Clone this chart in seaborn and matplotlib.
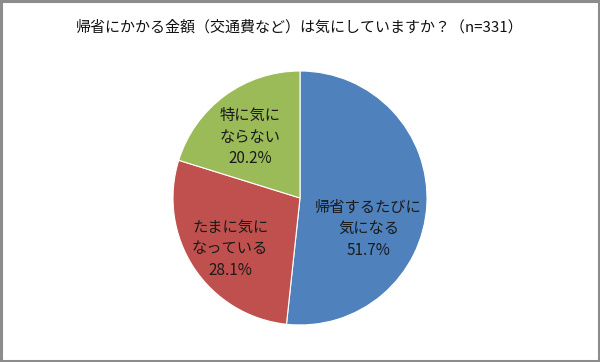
import matplotlib
matplotlib.use("Agg")
import matplotlib.pyplot as plt
import seaborn as sns

# ==================================================
# DATA
# ==================================================

title = "帰省にかかる金額（交通費など）は気にしていますか？（n=331）"
labels = ["帰省するたびに\n気になる", "たまに気に\nなっている", "特に気に\nならない"]
shares = [51.7, 28.1, 20.2]
colors = ["#4F81BD", "#C0504D", "#9BBB59"]

# ==================================================
# SETTINGS
# ==================================================

sns.set_style("white")
plt.rcParams["font.family"] = ["Noto Sans CJK JP", "DejaVu Sans"]

fig = plt.figure(figsize=(6.0, 3.62), dpi=100)

# gray frame around the image
frame = plt.Rectangle((0.0015, 0.0025), 0.997, 0.995, transform=fig.transFigure,
                      fill=False, edgecolor="#8c8c8c", linewidth=2.2)
fig.patches.append(frame)

fig.text(0.5, 0.925, title, ha="center", va="center", fontsize=10.8, color="#111111")

ax = fig.add_axes([173 / 600, 37 / 362, 254 / 600, 254 / 362])

ax.pie(
    shares,
    colors=colors,
    startangle=90,
    counterclock=False,
    wedgeprops=dict(edgecolor="white", linewidth=0.8),
)
ax.set_xlim(-1, 1)
ax.set_ylim(-1, 1)
ax.set_aspect("equal")

# label positions inside each wedge (pie radius units)
label_pos = [(0.54, -0.24), (-0.55, -0.40), (-0.39, 0.48)]

for (x, y), lab, val in zip(label_pos, labels, shares):
    ax.text(x, y, f"{lab}\n{val:.1f}%", ha="center", va="center",
            fontsize=11, linespacing=1.35, color="#1a1a1a")

ax.axis("off")

plt.savefig("out.png", dpi=100)
plt.close()
